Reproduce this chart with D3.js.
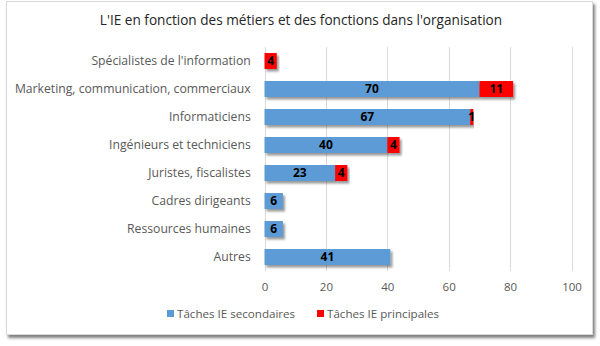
<!DOCTYPE html>
<html><head><meta charset="utf-8">
<script src="https://cdn.jsdelivr.net/npm/d3@7"></script>
<style>body{margin:0;background:#fff;}svg{display:block;font-family:"Open Sans",sans-serif;}</style>
</head><body>
<svg id="c" width="600" height="346"></svg>
<script>
const categories = ["Spécialistes de l'information","Marketing, communication, commerciaux","Informaticiens","Ingénieurs et techniciens","Juristes, fiscalistes","Cadres dirigeants","Ressources humaines","Autres"];
const secondaires = [0,70,67,40,23,6,6,41];
const principales = [4,11,1,4,4,0,0,0];
const seriesNames = ["Tâches IE secondaires","Tâches IE principales"];
const seriesColors = ["#5B9BD5","#FF0000"];
const xTicks = [0,20,40,60,80,100];
const title = "L'IE en fonction des métiers et des fonctions dans l'organisation";

const svg = d3.select("#c");
const defs = svg.append("defs");
const f = defs.append("filter").attr("id","bs").attr("x","-10%").attr("y","-30%").attr("width","130%").attr("height","180%");
f.append("feDropShadow").attr("dx",2).attr("dy",2.5).attr("stdDeviation",1.3).attr("flood-color","#000").attr("flood-opacity",0.4);
const f2 = defs.append("filter").attr("id","os").attr("x","-5%").attr("y","-5%").attr("width","110%").attr("height","110%");
f2.append("feDropShadow").attr("dx",2).attr("dy",3).attr("stdDeviation",1.5).attr("flood-color","#000").attr("flood-opacity",0.5);

svg.append("rect").attr("x",6.5).attr("y",1.5).attr("width",586).attr("height",333)
  .attr("fill","#fff").attr("stroke","#d9d9d9").attr("filter","url(#os)");

svg.append("text").attr("x",301).attr("y",25).attr("text-anchor","middle")
  .attr("font-size",13.6).attr("fill","#262626").text(title);

const x = d3.scaleLinear().domain([0,100]).range([264.5,571.5]);
const y = d3.scaleBand().domain(categories).range([47,271]).paddingInner(0.43).paddingOuter(0.215);

// gridlines
svg.append("g").selectAll("line").data(xTicks).join("line")
  .attr("x1",d=>Math.round(x(d))+0.5).attr("x2",d=>Math.round(x(d))+0.5)
  .attr("y1",47).attr("y2",271).attr("stroke","#d9d9d9").attr("stroke-width",1);

// x axis
const xa = svg.append("g").attr("transform","translate(0,271)")
  .call(d3.axisBottom(x).tickValues(xTicks).tickSize(0).tickPadding(12).tickFormat(d3.format("d")));
xa.select(".domain").remove();
xa.selectAll("text").attr("font-size",11.5).attr("fill","#595959").attr("font-family","Open Sans, sans-serif");

// y axis
const ya = svg.append("g").attr("transform","translate(264.5,0)")
  .call(d3.axisLeft(y).tickSize(0).tickPadding(13.8));
ya.select(".domain").remove();
ya.selectAll("text").attr("font-size",12.2).attr("fill","#595959").attr("font-family","Open Sans, sans-serif");

const rows = categories.map((c,i)=>({c, s:secondaires[i], p:principales[i]}));
const g = svg.append("g");
g.selectAll("rect.s").data(rows.filter(r=>r.s>0)).join("rect").attr("class","s")
  .attr("x",x(0)).attr("y",d=>y(d.c)).attr("width",d=>x(d.s)-x(0)).attr("height",y.bandwidth())
  .attr("fill",seriesColors[0]).attr("filter","url(#bs)");
g.selectAll("rect.p").data(rows.filter(r=>r.p>0)).join("rect").attr("class","p")
  .attr("x",d=>x(d.s)).attr("y",d=>y(d.c)).attr("width",d=>x(d.s+d.p)-x(d.s)).attr("height",y.bandwidth())
  .attr("fill",seriesColors[1]).attr("filter","url(#bs)");

const lbl = g.append("g").attr("font-weight","bold").attr("font-size",12).attr("fill","#000").attr("text-anchor","middle");
lbl.selectAll("text.s").data(rows.filter(r=>r.s>0)).join("text")
  .attr("x",d=>x(d.s/2)).attr("y",d=>y(d.c)+y.bandwidth()/2).attr("dy","0.36em").text(d=>d.s);
lbl.selectAll("text.p").data(rows.filter(r=>r.p>0)).join("text")
  .attr("x",d=>x(d.s+d.p/2)).attr("y",d=>y(d.c)+y.bandwidth()/2).attr("dy","0.36em").text(d=>d.p);

// legend
const leg = svg.append("g").attr("font-size",11.6).attr("fill","#595959");
const legX = [167,317];
seriesNames.forEach((n,i)=>{
  leg.append("rect").attr("x",legX[i]).attr("y",310).attr("width",7).attr("height",7).attr("fill",seriesColors[i]);
  leg.append("text").attr("x",legX[i]+10).attr("y",314).attr("dy","0.35em").text(n);
});
</script>
</body></html>
